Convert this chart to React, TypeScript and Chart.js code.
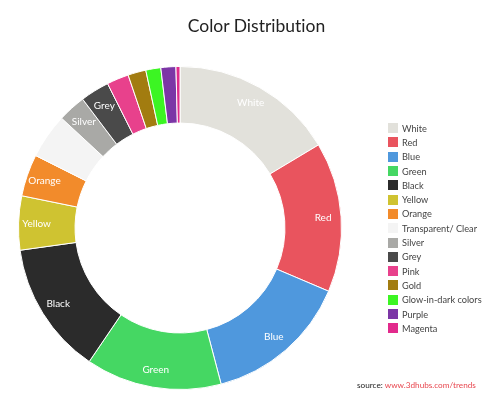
import React, { useEffect, useRef } from "react";
import { Chart, registerables } from "chart.js";

Chart.register(...registerables);

const categories = [
  "White", "Red", "Blue", "Green", "Black", "Yellow", "Orange",
  "Transparent/ Clear", "Silver", "Grey", "Pink", "Gold",
  "Glow-in-dark colors", "Purple", "Magenta",
];
const shares = [16.4, 15.0, 14.5, 13.6, 13.3, 5.4, 4.2, 4.5, 2.8, 2.9, 2.2, 1.8, 1.5, 1.5, 0.4];
const sliceColors = [
  "#e2e1db", "#e9545e", "#4f98dd", "#45d763", "#2b2b2b", "#cfc331", "#f28b2b",
  "#f4f4f4", "#a9a9a6", "#4a4a4a", "#e8418c", "#a27c10", "#3cf523", "#7c36a6", "#e22a8c",
];
const sliceLabels = ["White", "Red", "Blue", "Green", "Black", "Yellow", "Orange", "", "Silver", "Grey", "", "", "", "", ""];

const FONT = "Lato, 'Open Sans', sans-serif";

const labelPlugin = {
  id: "sliceLabels",
  afterDatasetsDraw(chart: any) {
    const ctx = chart.ctx;
    const meta = chart.getDatasetMeta(0);
    ctx.save();
    ctx.font = `10px ${FONT}`;
    ctx.fillStyle = "#ffffff";
    ctx.textAlign = "center";
    ctx.textBaseline = "middle";
    meta.data.forEach((arc: any, i: number) => {
      const t = sliceLabels[i];
      if (!t) return;
      const { x, y, startAngle, endAngle, innerRadius, outerRadius } = arc.getProps(
        ["x", "y", "startAngle", "endAngle", "innerRadius", "outerRadius"], true
      );
      const mid = (startAngle + endAngle) / 2;
      const r = innerRadius + 0.68 * (outerRadius - innerRadius);
      ctx.fillText(t, x + Math.cos(mid) * r, y + Math.sin(mid) * r);
    });
    ctx.restore();
  },
};

export default function App() {
  const ref = useRef<HTMLCanvasElement | null>(null);
  useEffect(() => {
    if (!ref.current) return;
    const chart = new Chart(ref.current, {
      type: "doughnut",
      data: {
        labels: categories,
        datasets: [
          {
            data: shares,
            backgroundColor: sliceColors,
            borderColor: "#ffffff",
            borderWidth: 1,
          },
        ],
      },
      options: {
        animation: false,
        responsive: false,
        cutout: "65%",
        layout: { padding: { left: 18, top: 66, right: 158, bottom: 17 } },
        plugins: {
          legend: { display: false },
          tooltip: { enabled: false },
          title: { display: false },
        },
      },
      plugins: [labelPlugin],
    });
    return () => chart.destroy();
  }, []);

  return (
    <div style={{ position: "absolute", left: 0, top: 0, width: 500, height: 407, background: "#fff", fontFamily: FONT, fontVariantLigatures: "none" }}>
      <canvas ref={ref} width={500} height={407} style={{ position: "absolute", left: 0, top: 0, width: 500, height: 407 }} />
      <div style={{ position: "absolute", left: 0, width: 513, top: 14, textAlign: "center", fontSize: 17.5, color: "#222", lineHeight: "24px" }}>
        Color Distribution
      </div>
      <div style={{ position: "absolute", left: 388, top: 121 }}>
        {categories.map((c, i) => (
          <div key={c} style={{ display: "flex", alignItems: "center", height: 14.3, fontSize: 9.2, color: "#444" }}>
            <span style={{ display: "inline-block", width: 10, height: 10, background: sliceColors[i], marginRight: 4 }} />
            <span>{c}</span>
          </div>
        ))}
      </div>
      <div style={{ position: "absolute", left: 357, top: 380, fontSize: 8.2, color: "#222", whiteSpace: "nowrap" }}>
        source: <span style={{ color: "#e8474f" }}>www.3dhubs.com/trends</span>
      </div>
    </div>
  );
}
